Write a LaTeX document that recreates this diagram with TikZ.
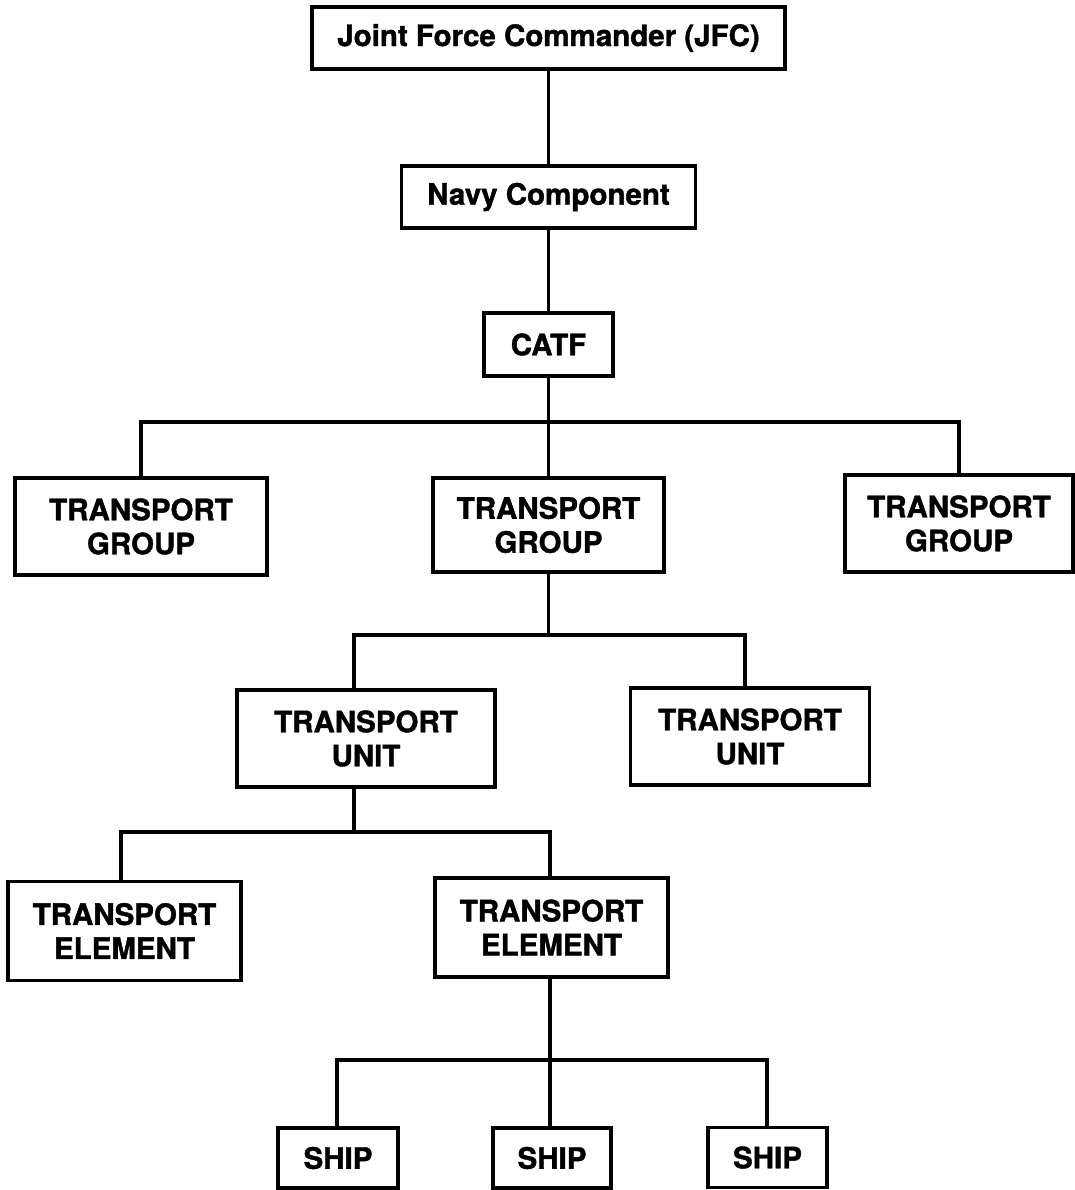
\documentclass[tikz,border=0pt]{standalone}
\usepackage{fontspec}
\setmainfont{TeX Gyre Heros}[BoldFeatures={FakeBold=1.3}]
\begin{document}
\begin{tikzpicture}[x=1pt,y=-1pt,
  orgbox/.style={draw, line width=3.2pt, inner sep=0pt, align=center,
    font=\bfseries\fontsize{29.5}{34}\selectfont},
  link/.style={line width=3.2pt}]
\useasboundingbox (0,0) rectangle (1074,1190);

% command chain
\node[orgbox, minimum width=473, minimum height=62] (jfc)  at (548.5,38)  {Joint Force Commander (JFC)};
\node[orgbox, minimum width=294, minimum height=62] (navy) at (548.5,197) {Navy Component};
\node[orgbox, minimum width=129, minimum height=63] (catf) at (548.5,344.5) {CATF};

% transport groups
\node[orgbox, minimum width=252, minimum height=97] (tgL) at (141,526.5)  {TRANSPORT\\GROUP};
\node[orgbox, minimum width=231, minimum height=94] (tgC) at (548.5,525)  {TRANSPORT\\GROUP};
\node[orgbox, minimum width=228, minimum height=97] (tgR) at (959,523.5)  {TRANSPORT\\GROUP};

% transport units
\node[orgbox, minimum width=258, minimum height=97] (tuL) at (366,738.5)  {TRANSPORT\\UNIT};
\node[orgbox, minimum width=239, minimum height=97] (tuR) at (750,736.5)  {TRANSPORT\\UNIT};

% transport elements
\node[orgbox, minimum width=233, minimum height=99] (teL) at (124.5,931)  {TRANSPORT\\ELEMENT};
\node[orgbox, minimum width=233, minimum height=99] (teR) at (551.5,927.5) {TRANSPORT\\ELEMENT};

% ships
\node[orgbox, minimum width=120, minimum height=60] (s1) at (338,1158)   {SHIP};
\node[orgbox, minimum width=118, minimum height=60] (s2) at (552,1158)   {SHIP};
\node[orgbox, minimum width=119, minimum height=60] (s3) at (767.5,1157.5) {SHIP};

% junction points of the branch bars
\coordinate (j1) at (548.5,422);
\coordinate (j2) at (548.5,635);
\coordinate (j3) at (354,832);
\coordinate (j4) at (550,1060);

% connectors
\draw[link] (jfc.south) -- (navy.north);
\draw[link] (navy.south) -- (catf.north);
\draw[link] (catf.south) -- (tgC.north);
\draw[link] (tgL.north) |- (j1) -| (tgR.north);

\draw[link] (tgC.south) -- (j2);
\draw[link] ([xshift=-12pt]tuL.north) |- (j2) -| ([xshift=-5pt]tuR.north);

\draw[link] ([xshift=-12pt]tuL.south) -- (j3);
\draw[link] ([xshift=-3.5pt]teL.north) |- (j3) -| ([xshift=-1.5pt]teR.north);

\draw[link] ([xshift=-1.5pt]teR.south) -- ([xshift=-2pt]s2.north);
\draw[link] ([xshift=-1pt]s1.north) |- (j4) -| ([xshift=-0.5pt]s3.north);
\end{tikzpicture}
\end{document}
